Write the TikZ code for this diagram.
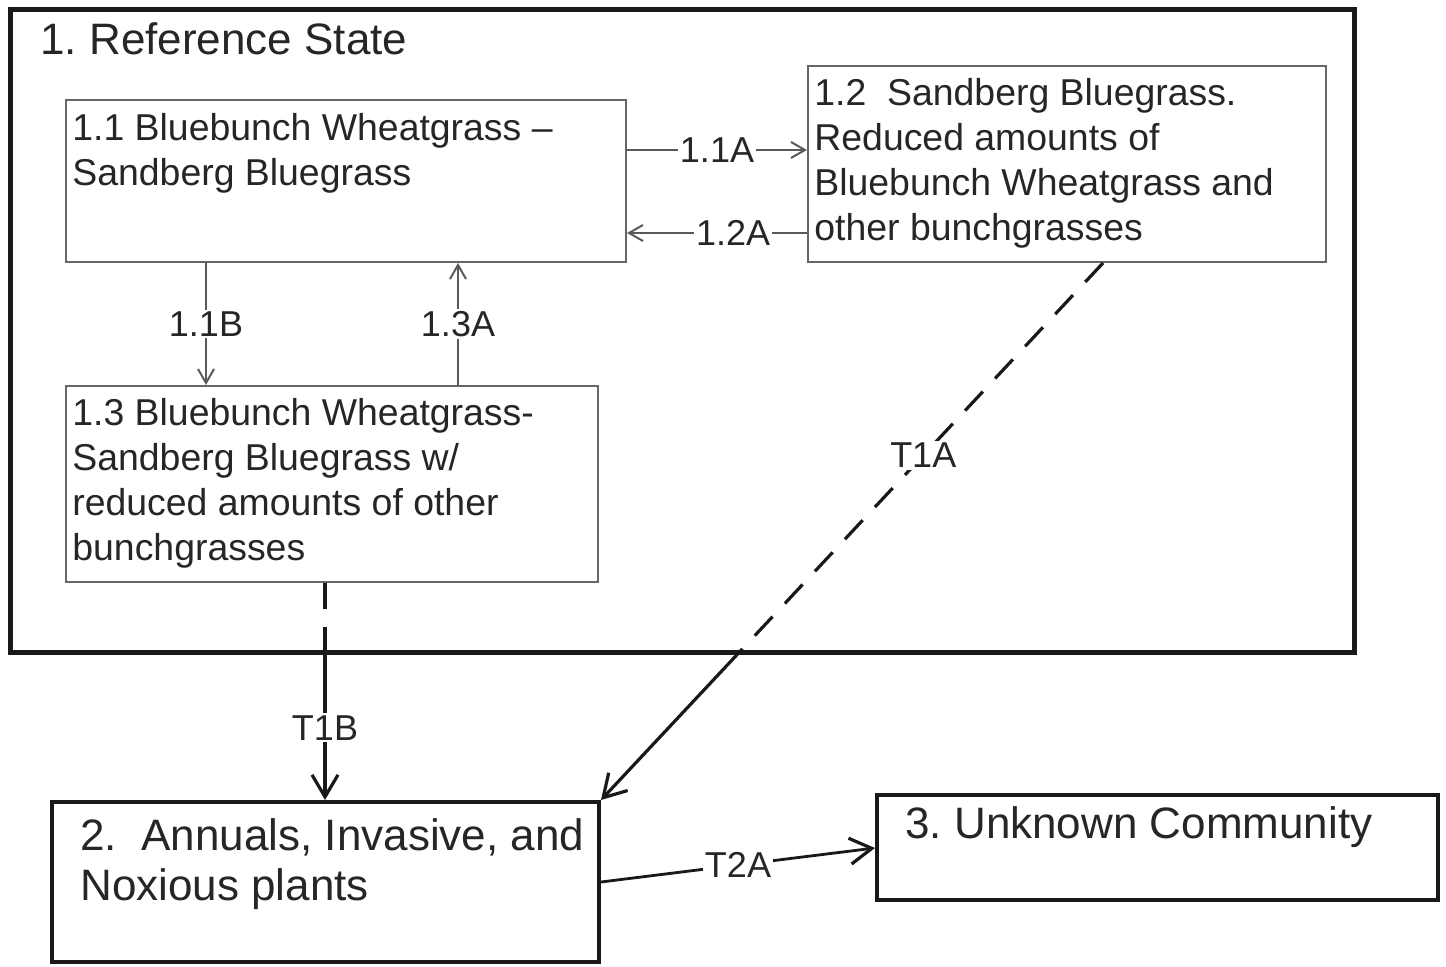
\documentclass[tikz,border=0pt]{standalone}
\usepackage{fontspec}
\setmainfont{Liberation Sans}
\usetikzlibrary{arrows.meta,fit,calc}
\frenchspacing
\begin{document}
\begin{tikzpicture}[x=0.5pt,y=-0.5pt,
  thinbox/.style={draw=black!60, line width=1pt, inner sep=0pt},
  thickbox/.style={draw=black!90, line width=2pt, inner sep=0pt},
  outerbox/.style={draw=black!90, line width=2.5pt, inner sep=0pt},
  txt/.style={font=\fontsize{18.7}{22.5}\selectfont, text=black!85, inner sep=0pt, anchor=north west, align=left},
  bigtxt/.style={font=\fontsize{22}{25}\selectfont, text=black!85, inner sep=0pt, anchor=north west, align=left},
  lab/.style={font=\fontsize{18}{22}\selectfont, text=black!85, fill=white, inner sep=1pt},
  thinarr/.style={draw=black!65, line width=1pt, -{Straight Barb[length=7pt,width=8pt]}},
  tline/.style={draw=black!90, line width=1.6pt},
  tarr/.style={draw=black!90, line width=1.6pt, -{Straight Barb[length=11pt,width=13pt,line width=1.6pt]}},
  tdash/.style={dash pattern=on 13pt off 9pt}
]
\useasboundingbox (0,0) rectangle (1446,967);

% state 1
\node[outerbox, fit={(10,10)(1354,653)}] (s1) {};
\node[bigtxt] (s1t) at (40,22) {1. Reference State};

\node[thinbox, fit={(66,100)(626,262)}] (b11) {};
\node[txt] (t11) at (72,113) {1.1 Bluebunch Wheatgrass –\\Sandberg Bluegrass};

\node[thinbox, fit={(808,66)(1326,262)}] (b12) {};
\node[txt] (t12) at (814,78) {1.2\ \ Sandberg Bluegrass.\\Reduced amounts of\\Bluebunch Wheatgrass and\\other bunchgrasses};

\node[thinbox, fit={(66,386)(598,582)}] (b13) {};
\node[txt] (t13) at (72,398) {1.3 Bluebunch Wheatgrass-\\Sandberg Bluegrass w/\\reduced amounts of other\\bunchgrasses};

% states 2, 3
\node[thickbox, fit={(52,802)(599,962)}] (b2) {};
\node[bigtxt] (t2) at (80,818) {2.\ \ Annuals, Invasive, and\\Noxious plants};

\node[thickbox, fit={(877,795)(1438,900)}] (b3) {};
\node[bigtxt] (t3) at (905,806) {3. Unknown Community};

% helper coordinates
\coordinate (y150) at (0,150);
\coordinate (y233) at (0,233);
\coordinate (x206) at (206,0);
\coordinate (x458) at (458,0);
\coordinate (x325) at (325,0);
\coordinate (x1103) at (1103,0);
\coordinate (y882) at (0,882);
\coordinate (y848) at (0,848);

% pathways within state 1
\draw[thinarr] (b11.east |- y150) -- node[lab]{1.1A} (b12.west |- y150);
\draw[thinarr] (b12.west |- y233) -- node[lab, pos=0.41]{1.2A} (b11.east |- y233);
\draw[thinarr] (b11.south -| x206) -- node[lab]{1.1B} (b13.north -| x206);
\draw[thinarr] (b13.north -| x458) -- node[lab]{1.3A} (b11.south -| x458);

% T1B
\coordinate (t1bs) at (b13.south -| x325);
\coordinate (t1bm) at (s1.south -| x325);
\draw[tline, tdash] (t1bs) -- (t1bm);
\draw[tarr] (t1bm) -- node[lab]{T1B} (b2.north -| x325);

% T1A
\coordinate (t1as) at (b12.south -| x1103);
\coordinate (t1am) at (intersection of t1as--b2.north east and s1.south west--s1.south east);
\draw[tline, tdash] (t1as) -- node[lab, pos=0.49]{T1A} (t1am);
\draw[tarr] (t1am) -- (b2.north east);

% T2A
\draw[tarr, line width=1.4pt] (b2.east |- y882) -- node[lab]{T2A} (b3.west |- y848);
\end{tikzpicture}
\end{document}
